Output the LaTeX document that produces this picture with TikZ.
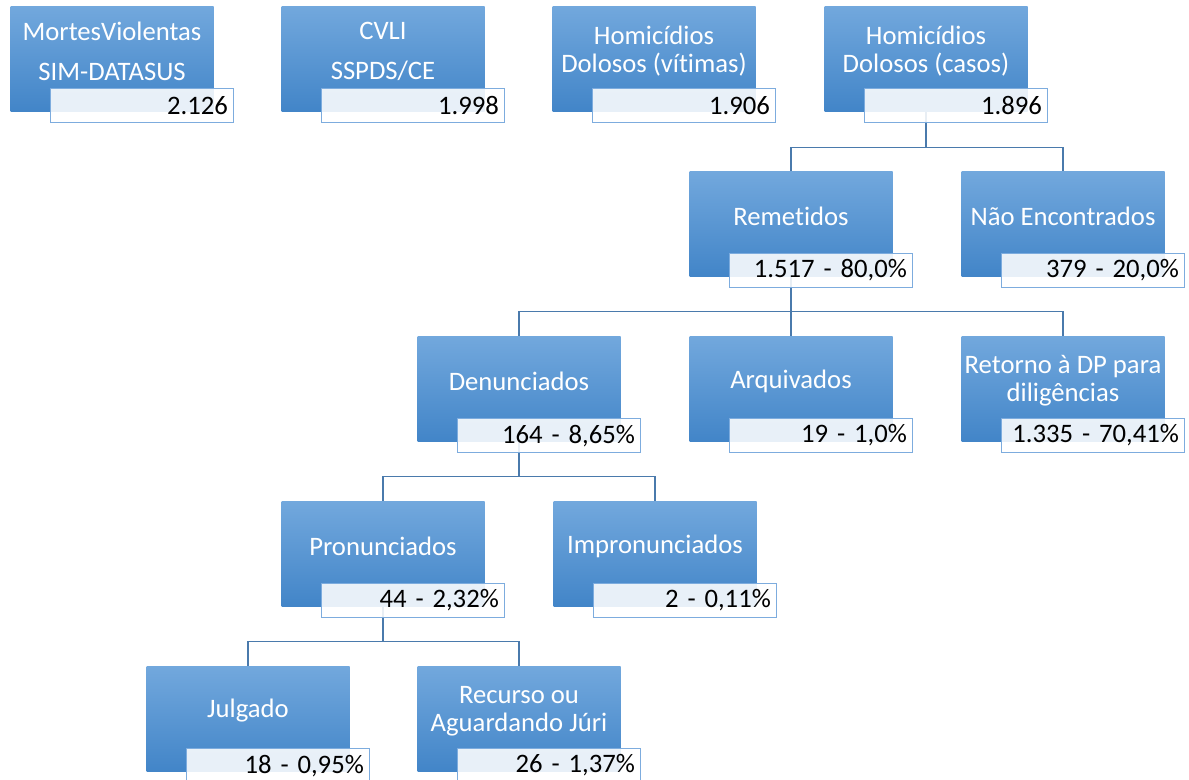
\documentclass[tikz,border=0pt]{standalone}
\usepackage{fontspec}
\setmainfont{Carlito}[Ligatures=NoCommon]
\usetikzlibrary{positioning}
\definecolor{caixaTopo}{RGB}{114,168,221}
\definecolor{caixaBase}{RGB}{66,133,200}
\definecolor{rotuloBorda}{RGB}{125,172,222}
\definecolor{ligaCor}{RGB}{74,122,172}
\pgfdeclarelayer{fundo}
\pgfsetlayers{fundo,main}
\begin{document}
\begin{tikzpicture}[x=0.75pt, y=-0.75pt,
	caixa/.style={anchor=north, minimum width=152.25pt, minimum height=78.75pt, inner sep=0pt, top color=caixaTopo, bottom color=caixaBase},
	texto/.style={text=white, align=center, inner sep=0pt, font=\fontsize{20}{21}\selectfont},
	rotulo/.style={anchor=north west, draw=rotuloBorda, line width=0.9pt, fill=white, fill opacity=0.88, text opacity=1, text width=128.25pt, align=right, minimum height=25.5pt, inner xsep=4.5pt, inner ysep=0pt, font=\fontsize{20}{21}\selectfont},
	ligacao/.style={draw=ligaCor, line width=1pt}]
		\useasboundingbox (0,0) rectangle (1189,780);
		% linha 1
		\node[caixa] at (112, 6) (mortes) {};
		\node[caixa] at (383, 6) (cvli) {};
		\node[caixa] at (654, 6) (vitimas) {};
		\node[caixa] at (926, 6) (casos) {};
		% linha 2
		\node[caixa] at (791, 171) (remet) {};
		\node[caixa] at (1063, 171) (naoenc) {};
		% linha 3
		\node[caixa] at (519, 336) (denun) {};
		\node[caixa] at (791, 336) (arquiv) {};
		\node[caixa] at (1063, 336) (retorno) {};
		% linha 4
		\node[caixa] at (383, 501) (pronun) {};
		\node[caixa] at (655, 501) (impron) {};
		% linha 5
		\node[caixa] at (248, 666) (julg) {};
		\node[caixa] at (519, 666) (recur) {};
		% textos
		\node[texto] at ([yshift=-33.75pt]mortes.north) (tmortes) {MortesViolentas\\[9pt]SIM-DATASUS};
		\node[texto] at ([yshift=-33.75pt]cvli.north) (tcvli) {CVLI\\[9pt]SSPDS/CE};
		\node[texto] at ([yshift=-33.75pt]vitimas.north) (tvitimas) {Homicídios\\Dolosos (vítimas)};
		\node[texto] at ([yshift=-33.75pt]casos.north) (tcasos) {Homicídios\\Dolosos (casos)};
		\node[texto] at ([yshift=-33.75pt]remet.north) (tremet) {Remetidos};
		\node[texto] at ([yshift=-33.75pt]naoenc.north) (tnaoenc) {Não Encontrados};
		\node[texto] at ([yshift=-33.75pt]denun.north) (tdenun) {Denunciados};
		\node[texto] at ([yshift=-33.75pt]arquiv.north) (tarquiv) {Arquivados};
		\node[texto] at ([yshift=-33.75pt]retorno.north) (tretorno) {Retorno à DP para\\diligências};
		\node[texto] at ([yshift=-33.75pt]pronun.north) (tpronun) {Pronunciados};
		\node[texto] at ([yshift=-33.75pt]impron.north) (timpron) {Impronunciados};
		\node[texto] at ([yshift=-33.75pt]julg.north) (tjulg) {Julgado};
		\node[texto] at ([yshift=-33.75pt]recur.north) (trecur) {Recurso ou\\Aguardando Júri};
		% rotulos
		\node[rotulo] at ([shift={(30pt,-61.5pt)}]mortes.north west) (rmortes) {2.126};
		\node[rotulo] at ([shift={(30pt,-61.5pt)}]cvli.north west) (rcvli) {1.998};
		\node[rotulo] at ([shift={(30pt,-61.5pt)}]vitimas.north west) (rvitimas) {1.906};
		\node[rotulo] at ([shift={(30pt,-61.5pt)}]casos.north west) (rcasos) {1.896};
		\node[rotulo] at ([shift={(30pt,-61.5pt)}]remet.north west) (rremet) {1.517 - 80,0\%};
		\node[rotulo] at ([shift={(30pt,-61.5pt)}]naoenc.north west) (rnaoenc) {379 - 20,0\%};
		\node[rotulo] at ([shift={(30pt,-61.5pt)}]denun.north west) (rdenun) {164 - 8,65\%};
		\node[rotulo] at ([shift={(30pt,-61.5pt)}]arquiv.north west) (rarquiv) {19 - 1,0\%};
		\node[rotulo] at ([shift={(30pt,-61.5pt)}]retorno.north west) (rretorno) {1.335 - 70,41\%};
		\node[rotulo] at ([shift={(30pt,-61.5pt)}]pronun.north west) (rpronun) {44 - 2,32\%};
		\node[rotulo] at ([shift={(30pt,-61.5pt)}]impron.north west) (rimpron) {2 - 0,11\%};
		\node[rotulo] at ([shift={(30pt,-61.5pt)}]julg.north west) (rjulg) {18 - 0,95\%};
		\node[rotulo] at ([shift={(30pt,-61.5pt)}]recur.north west) (rrecur) {26 - 1,37\%};
		% ligacoes
		\begin{pgfonlayer}{fundo}
		\draw[ligacao] (casos.south) -- ++(0,36) -| (remet.north);
		\draw[ligacao] (casos.south) -- ++(0,36) -| (naoenc.north);
		\draw[ligacao] (remet.south) -- ++(0,35) -| (denun.north);
		\draw[ligacao] (remet.south) -- ++(0,35) -| (arquiv.north);
		\draw[ligacao] (remet.south) -- ++(0,35) -| (retorno.north);
		\draw[ligacao] (denun.south) -- ++(0,35) -| (pronun.north);
		\draw[ligacao] (denun.south) -- ++(0,35) -| (impron.north);
		\draw[ligacao] (pronun.south) -- ++(0,35) -| (julg.north);
		\draw[ligacao] (pronun.south) -- ++(0,35) -| (recur.north);
		\end{pgfonlayer}
	\end{tikzpicture}
\end{document}
